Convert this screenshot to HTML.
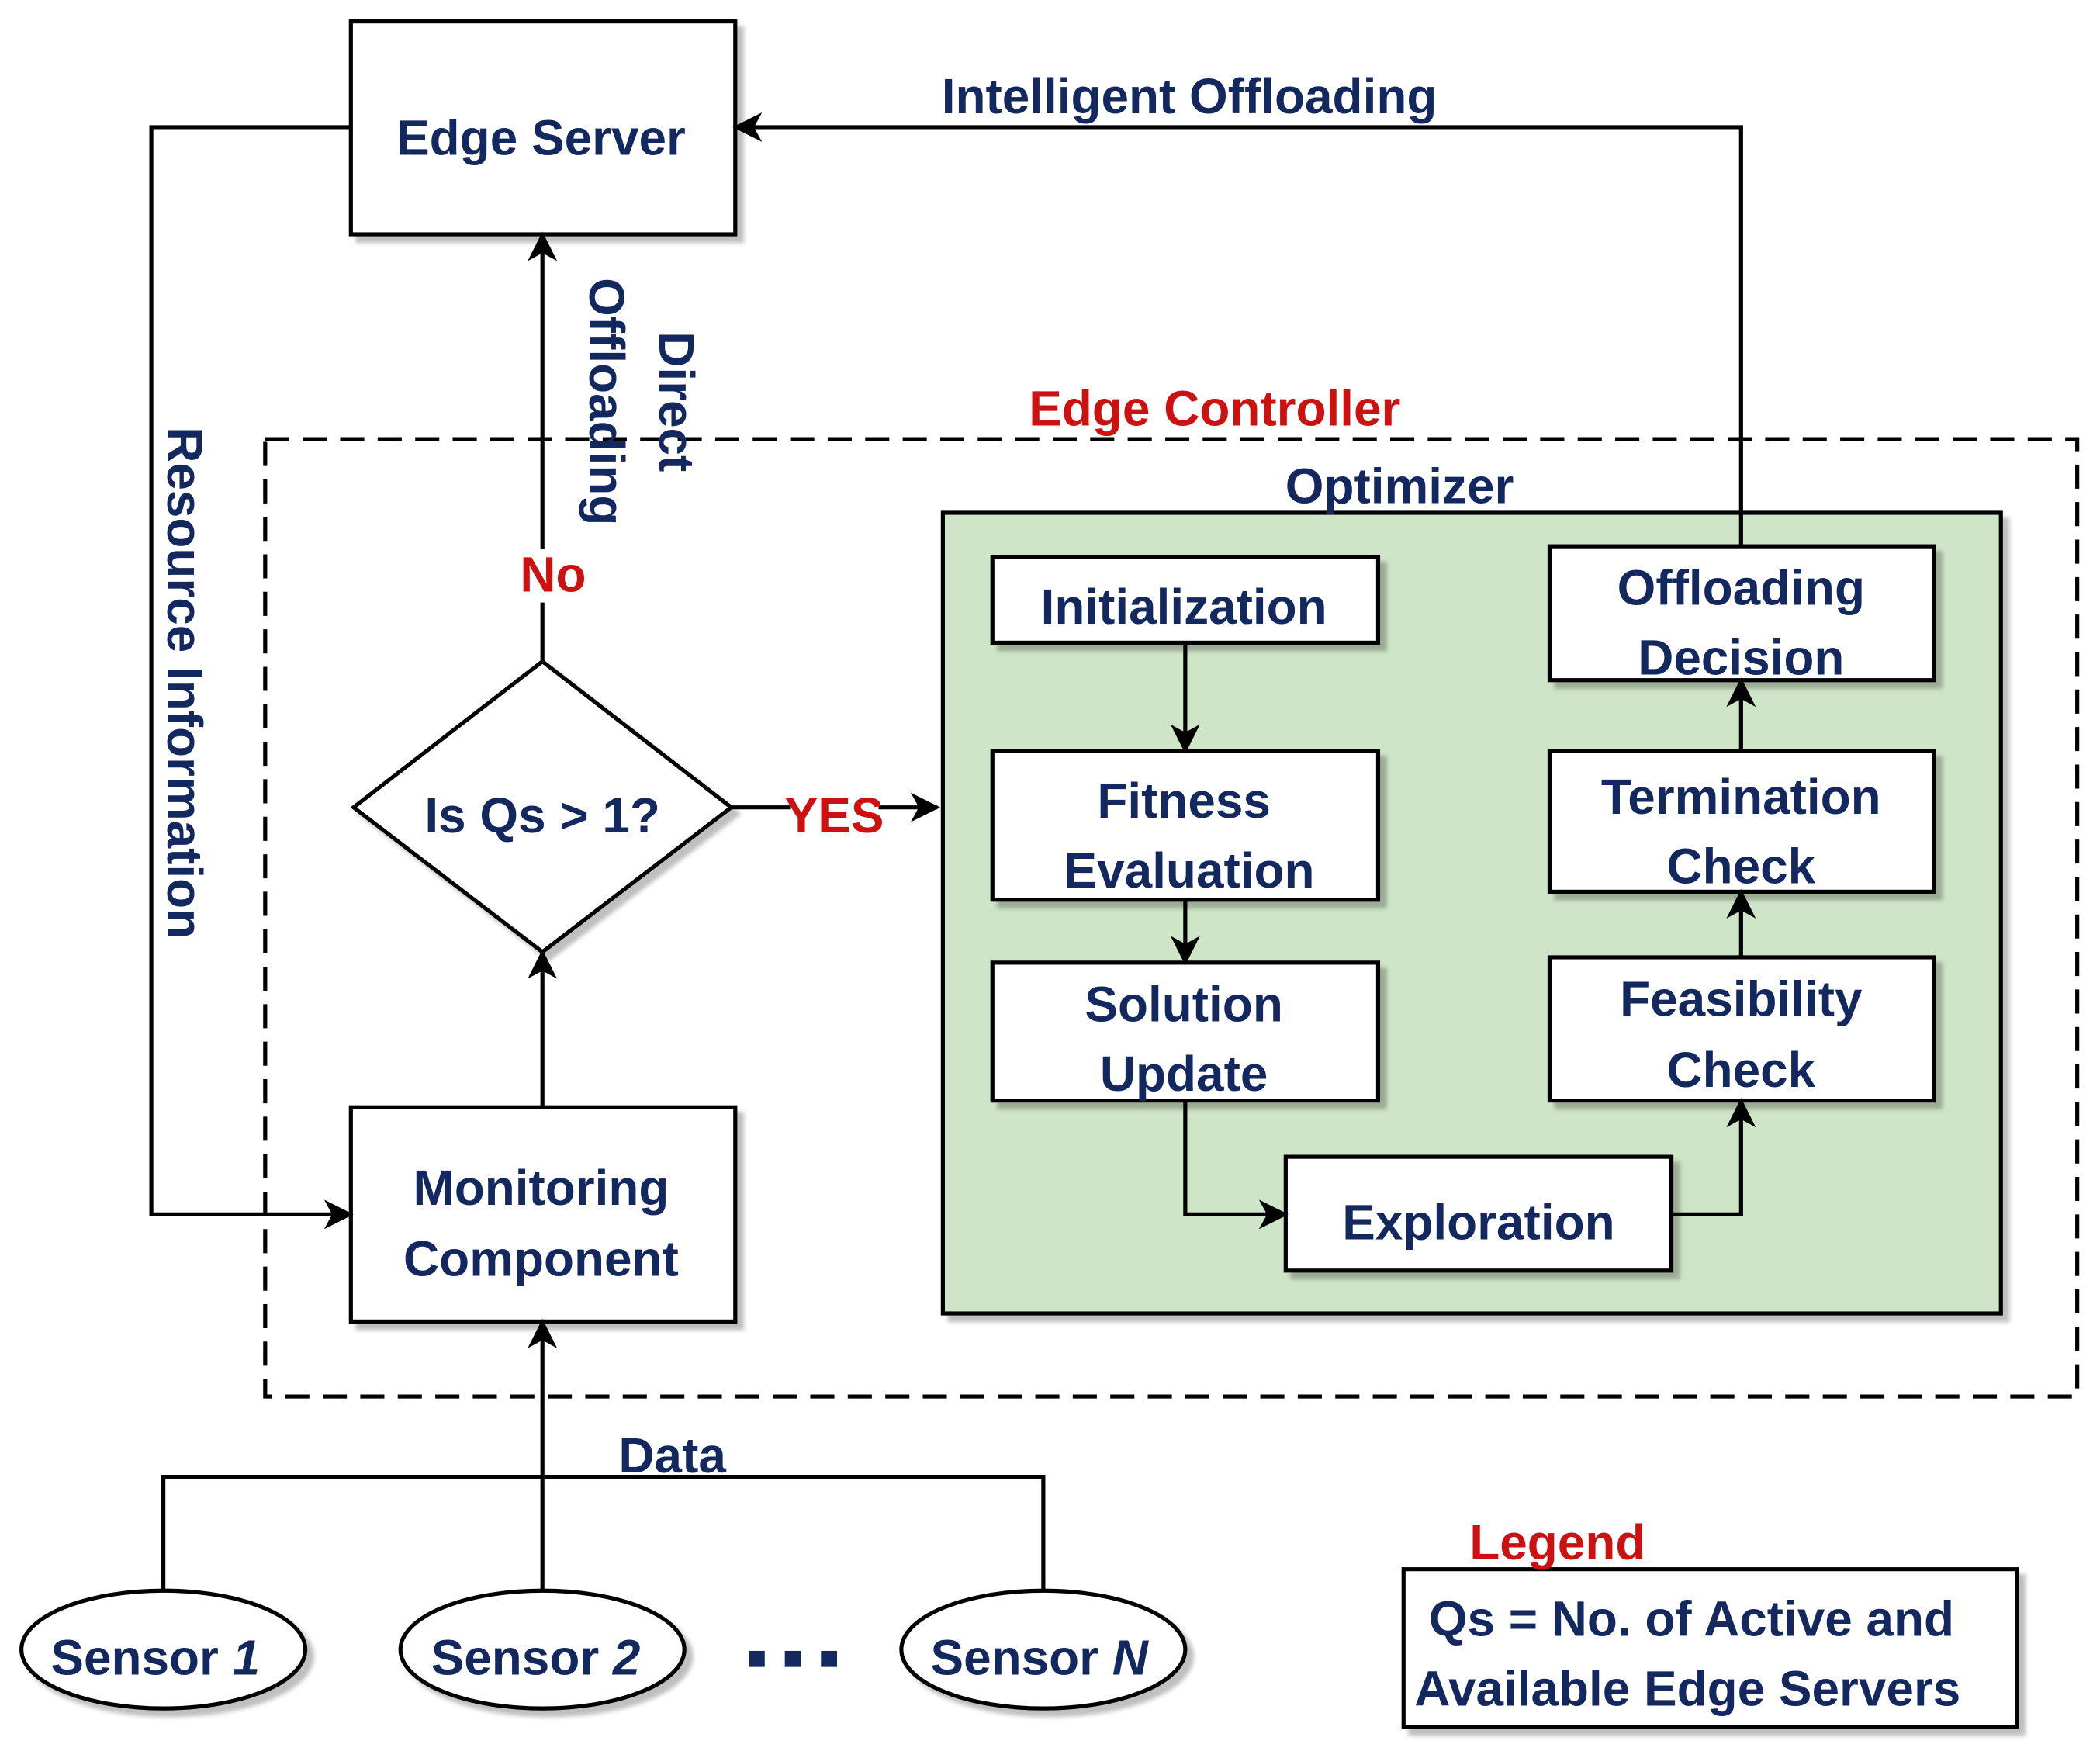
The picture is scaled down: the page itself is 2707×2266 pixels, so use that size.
<!DOCTYPE html>
<html><head><meta charset="utf-8"><style>
html,body{margin:0;padding:0;background:#fff;}
svg{display:block;}
text{font-family:"Liberation Sans",sans-serif;font-weight:bold;fill:#13285e;}
.r{fill:#cc1111;}
</style></head><body>
<svg width="2707" height="2266" viewBox="0 0 1568 1313" preserveAspectRatio="none" xmlns="http://www.w3.org/2000/svg">
<defs>
<marker id="a" markerWidth="22" markerHeight="22" refX="20" refY="11" orient="auto" markerUnits="userSpaceOnUse">
<path d="M0,0 L22,11 L0,22 L6,11 z" fill="#000"/>
</marker>
<filter id="s" x="-10%" y="-10%" width="130%" height="130%">
<feDropShadow dx="5" dy="5" stdDeviation="1.5" flood-color="#000" flood-opacity="0.25"/>
</filter>
</defs>
<g stroke="#000" stroke-width="3" fill="#fff">
<rect x="262" y="16" width="287" height="159" filter="url(#s)"/>
<rect x="198" y="328" width="1353" height="715" fill="none" stroke-dasharray="18,10"/>
<rect x="704" y="383" width="790" height="598" fill="#cfe5c7" filter="url(#s)"/>
<rect x="741" y="416" width="288" height="64" filter="url(#s)"/>
<rect x="741" y="561" width="288" height="111" filter="url(#s)"/>
<rect x="741" y="719" width="288" height="103" filter="url(#s)"/>
<rect x="960" y="864" width="288" height="85" filter="url(#s)"/>
<rect x="1157" y="715" width="287" height="107" filter="url(#s)"/>
<rect x="1157" y="561" width="287" height="105" filter="url(#s)"/>
<rect x="1157" y="408" width="287" height="100" filter="url(#s)"/>
<rect x="262" y="827" width="287" height="160" filter="url(#s)"/>
<polygon points="405,494 546,603 405,711 264,603" filter="url(#s)"/>
<ellipse cx="122" cy="1232" rx="106" ry="44" filter="url(#s)"/>
<ellipse cx="405" cy="1232" rx="106" ry="44" filter="url(#s)"/>
<ellipse cx="779" cy="1232" rx="106" ry="44" filter="url(#s)"/>
<rect x="1048" y="1172" width="458" height="118" filter="url(#s)"/>
</g>
<g stroke="#000" stroke-width="3" fill="none">
<polyline points="262,95 113,95 113,907 262,907" marker-end="url(#a)"/>
<polyline points="405,494 405,175" marker-end="url(#a)"/>
<polyline points="546,603 700,603" marker-end="url(#a)"/>
<polyline points="1300,408 1300,95 549,95" marker-end="url(#a)"/>
<polyline points="405,827 405,711" marker-end="url(#a)"/>
<polyline points="122,1188 122,1103 779,1103 779,1188"/>
<polyline points="405,1188 405,987" marker-end="url(#a)"/>
<polyline points="885,480 885,561" marker-end="url(#a)"/>
<polyline points="885,672 885,719" marker-end="url(#a)"/>
<polyline points="885,822 885,907 960,907" marker-end="url(#a)"/>
<polyline points="1248,907 1300,907 1300,822" marker-end="url(#a)"/>
<polyline points="1300,715 1300,666" marker-end="url(#a)"/>
<polyline points="1300,561 1300,508" marker-end="url(#a)"/>
</g>
<rect x="385" y="410" width="45" height="40" fill="#fff"/>
<rect x="590" y="588" width="66" height="36" fill="#fff"/>
<g fill="#13285e"><rect x="559" y="1233" width="12" height="12"/><rect x="586" y="1233" width="12" height="12"/><rect x="613" y="1233" width="12" height="12"/></g>
<g font-size="37" text-anchor="middle" dominant-baseline="central">
<text x="404" y="103">Edge Server</text>
<text x="888" y="72">Intelligent Offloading</text>
<text x="907" y="305" class="r">Edge Controller</text>
<text x="1045" y="363">Optimizer</text>
<text x="884" y="453">Initialization</text>
<text x="884" y="598">Fitness</text>
<text x="888" y="650">Evaluation</text>
<text x="884" y="750">Solution</text>
<text x="884" y="802">Update</text>
<text x="1104" y="913">Exploration</text>
<text x="1300" y="746">Feasibility</text>
<text x="1300" y="799">Check</text>
<text x="1300" y="595">Termination</text>
<text x="1300" y="647">Check</text>
<text x="1300" y="439">Offloading</text>
<text x="1300" y="491">Decision</text>
<text x="404" y="887">Monitoring</text>
<text x="404" y="940">Component</text>
<text x="405" y="609">Is Qs &gt; 1?</text>
<text x="413" y="429" class="r">No</text>
<text x="623" y="609" class="r">YES</text>
<text x="502" y="1087">Data</text>
<text x="116" y="1238">Sensor <tspan font-style="italic">1</tspan></text>
<text x="400" y="1238">Sensor <tspan font-style="italic">2</tspan></text>
<text x="776" y="1238">Sensor <tspan font-style="italic">N</tspan></text>
<text x="1163" y="1152" class="r">Legend</text>
<text x="1263" y="1209">Qs = No. of Active and</text>
<text x="1260" y="1261">Available Edge Servers</text>
<text transform="translate(138,510) rotate(90)">Resource Information</text>
<text transform="translate(505,300) rotate(90)">Direct</text>
<text transform="translate(453,300) rotate(90)">Offloading</text>
</g>
</svg>
</body></html>
